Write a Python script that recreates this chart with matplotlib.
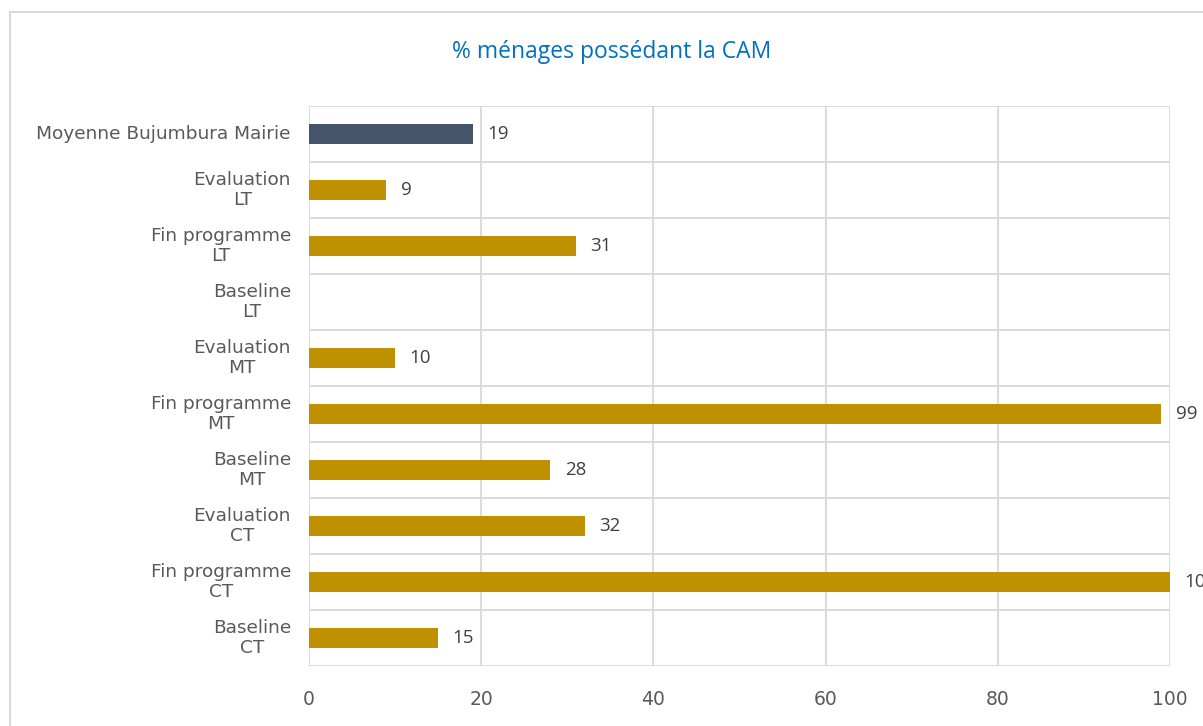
import numpy as np
import matplotlib.pyplot as plt
import matplotlib.transforms as mtransforms
from matplotlib.patches import Rectangle

# categories listed bottom to top
labels = ["Baseline\nCT", "Fin programme\nCT", "Evaluation\nCT",
          "Baseline\nMT", "Fin programme\nMT", "Evaluation\nMT",
          "Baseline\nLT", "Fin programme\nLT", "Evaluation\nLT",
          "Moyenne Bujumbura Mairie"]
values = [15, 100, 32, 28, 99, 10, np.nan, 31, 9, 19]
colors = ["#BF9000"] * 9 + ["#44546A"]
xticks = [0, 20, 40, 60, 80, 100]

fig = plt.figure(figsize=(12.03, 7.26), dpi=100)
ax = fig.add_axes([309 / 1203, 1 - 666 / 726, 861 / 1203, 560 / 726])

y = np.arange(len(labels))
ax.barh(y, values, height=0.36, color=colors, zorder=3)

# value labels at the end of each bar
for yi, v in zip(y, values):
    if np.isnan(v):
        continue
    ax.text(v + 1.7, yi, f"{v:g}", va="center", ha="left", fontsize=13.5,
            family="Open Sans", color="#404040", clip_on=False, zorder=4)

ax.set_xlim(0, 100)
ax.set_ylim(-0.5, len(labels) - 0.5)
ax.set_xticks(xticks)
ax.set_yticks(y)
ax.set_yticklabels([])
ax.tick_params(axis="x", labelsize=13.5, colors="#595959", length=0, pad=17)
ax.tick_params(axis="y", length=0)

# category labels: right aligned block, lines centred on each other
trans = ax.get_yaxis_transform() + mtransforms.ScaledTranslation(
    -18 / 100, 0, fig.dpi_scale_trans)
for yi, lab in zip(y, labels):
    ax.text(0, yi, lab, transform=trans, ha="right", va="center",
            multialignment="center", fontsize=13.3, color="#595959",
            linespacing=1.15)

# vertical grid at the ticks, horizontal lines between categories
grid_c = "#D9D9D9"
for xv in xticks:
    ax.axvline(xv, color=grid_c, lw=1.3, zorder=1)
for yb in np.arange(-0.5, len(labels), 1.0):
    ax.axhline(yb, color=grid_c, lw=1.3, zorder=1)
for s in ax.spines.values():
    s.set_visible(False)

fig.text(612 / 1203, 1 - 52 / 726, "% ménages possédant la CAM", ha="center",
         va="center", fontsize=16.5, family="Open Sans", color="#0070C0")

# chart area outline
fig.patches.append(Rectangle((10 / 1203, -0.1), 1.1, 1.1 - 12 / 726,
                             transform=fig.transFigure, fill=False,
                             edgecolor="#D9D9D9", lw=1.5, clip_on=False))

fig.savefig("out.png", dpi=100)
